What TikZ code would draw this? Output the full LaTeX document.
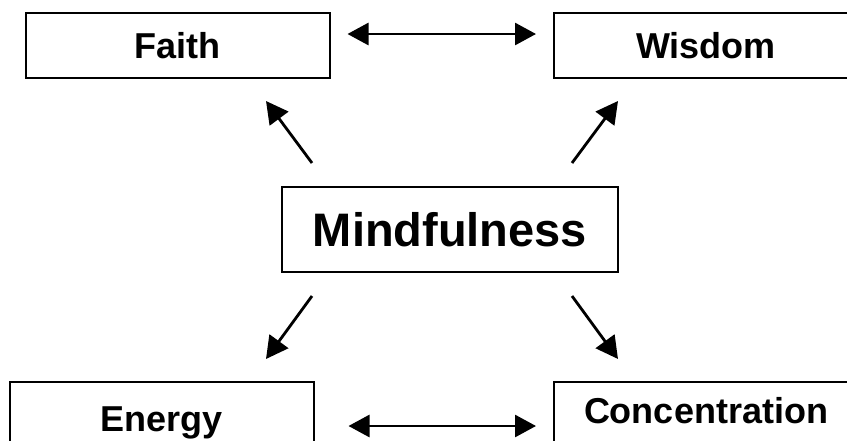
\documentclass[tikz,border=0pt]{standalone}
\usepackage{fontspec}
\setmainfont{Liberation Sans}
\usetikzlibrary{arrows.meta}
\begin{document}
\begin{tikzpicture}[x=1pt,y=-1pt,
  box/.style={draw=black,line width=2pt,rectangle,minimum width=304pt,minimum height=65pt,inner sep=0pt,text height=26pt,text depth=0pt,font=\bfseries\fontsize{36}{40}\selectfont},
  bigbox/.style={box,minimum width=336pt,minimum height=85pt,text height=34pt,font=\bfseries\fontsize{47}{52}\selectfont},
  arr/.style={line width=2.8pt,-{Triangle[length=22pt,width=23pt]}},
  dbl/.style={line width=2.8pt,{Triangle[length=21pt,width=22pt]}-{Triangle[length=21pt,width=22pt]}}]
\useasboundingbox (0,0) rectangle (847,440);
\fill[white] (0,0) rectangle (847,440);
\node[box] (F) at (177.5,45.5) {Faith};
\node[box] (W) at (706,45.5) {Wisdom};
\node[bigbox] (M) at (450,229.5) {Mindfulness};
\node[box,minimum height=73pt] (E) at (161.5,418.5) {Energy};
\node[box,minimum height=73pt,text depth=17pt] (C) at (706,418.5) {Concentration};
\draw[dbl,shorten <=17pt,shorten >=17pt] ([yshift=11.5pt]F.east) -- ([yshift=11.5pt]W.west);
\draw[dbl,shorten <=34pt,shorten >=17pt] ([yshift=-7.5pt]E.east) -- ([yshift=-7.5pt]C.west);
\draw[arr] ([xshift=31pt,yshift=23pt]M.north west) -- ([xshift=88.5pt,yshift=-22pt]F.south);
\draw[arr] ([xshift=-47pt,yshift=23pt]M.north east) -- ([xshift=-88pt,yshift=-22pt]W.south);
\draw[arr] ([xshift=31pt,yshift=-23pt]M.south west) -- ([xshift=104.5pt,yshift=22pt]E.north);
\draw[arr] ([xshift=-47pt,yshift=-23pt]M.south east) -- ([xshift=-88pt,yshift=22pt]C.north);
\end{tikzpicture}
\end{document}
